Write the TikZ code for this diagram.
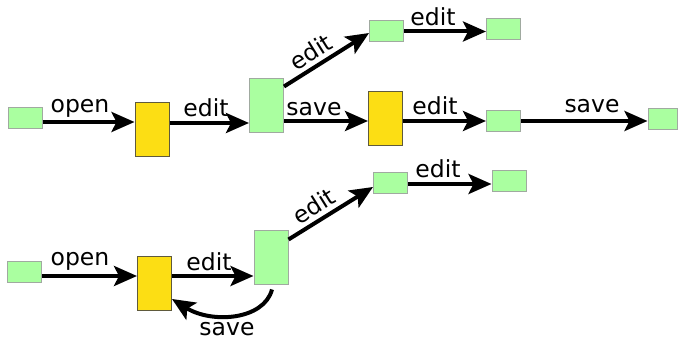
\documentclass[tikz,border=0pt]{standalone}
\usepackage{fontspec}
\setmainfont{DejaVu Sans}
\usetikzlibrary{arrows.meta,calc}
\definecolor{gfill}{RGB}{170,255,160}
\definecolor{gline}{RGB}{160,170,160}
\definecolor{yfill}{RGB}{252,222,20}
\definecolor{yline}{RGB}{95,90,60}
\begin{document}
\begin{tikzpicture}[x=1pt,y=-1pt,
  gsmall/.style={draw=gline,fill=gfill,line width=1pt,inner sep=0pt,minimum width=34pt,minimum height=21pt},
  gtall/.style={draw=gline,fill=gfill,line width=1pt,inner sep=0pt,minimum width=34pt,minimum height=54pt},
  ytall/.style={draw=yline,fill=yfill,line width=1pt,inner sep=0pt,minimum width=34pt,minimum height=54pt},
  arr/.style={line width=4pt,-{Stealth[length=23pt,width=20pt,inset=5pt]}},
  lbl/.style={font=\fontsize{23.5}{23.5}\selectfont,inner sep=0pt,anchor=base}]
\useasboundingbox (0,0) rectangle (678,339);
% top row
\node[gsmall] (A) at (25,118.5) {};
\node[ytall] (B) at (152,129.5) {};
\node[gtall] (C) at (266.5,106) {};
\node[gsmall] (D) at (386.5,31.5) {};
\node[gsmall] (E) at (503.5,29) {};
\node[ytall] (F) at (385.5,119) {};
\node[gsmall] (G) at (503.5,121) {};
\node[gsmall,minimum width=29pt] (H) at (662.5,119.5) {};
% bottom row
\node[gsmall] (I) at (24.5,272.5) {};
\node[ytall] (J) at (154.5,284) {};
\node[gtall] (K) at (271,258) {};
\node[gsmall] (L) at (390.5,183) {};
\node[gsmall] (M) at (509,181) {};
% connectors top
\draw[arr] ($(A.east)+(0,3.5)$) -- ($(B.west)+(0,-7.5)$);
\draw[arr] ($(B.east)+(0,-6.5)$) -- ($(C.west)+(0,17)$);
\draw[arr] ($(C.north east)+(0,8)$) -- ($(D.west)+(0,1.5)$);
\draw[arr] (D.east) -- (D.east -| E.west);
\draw[arr] ($(C.east)+(0,15)$) -- ($(F.west)+(0,2)$);
\draw[arr] (F.east |- G.west) -- (G.west);
\draw[arr] (G.east) -- (G.east -| H.west);
% connectors bottom
\draw[arr] ($(I.east)+(0,3.5)$) -- ($(J.west)+(0,-8)$);
\draw[arr] ($(J.east)+(0,-8)$) -- ($(K.west)+(0,18)$);
\draw[arr] ($(K.north east)+(0,9)$) -- ($(L.west)+(0,4)$);
\draw[arr] ($(L.east)+(0,1)$) -- ($(M.west)+(0,3)$);
\coordinate (ks) at ($(K.south)+(1,4)$);
\draw[arr] (ks) .. controls (264,320) and (212,324) .. ($(J.east)+(0,15)$);
% labels
\node[lbl] (l1) at (80,113) {open};
\node[lbl] (l2) at (206,117) {edit};
\node[lbl,anchor=center,rotate=32] (l3) at (311,52) {edit};
\node[lbl] (l4) at (433,26) {edit};
\node[lbl] (l5) at (314,116) {save};
\node[lbl] (l6) at (435,115) {edit};
\node[lbl] (l7) at (592,113) {save};
\node[lbl] (l8) at (80,266) {open};
\node[lbl] (l9) at (209,271) {edit};
\node[lbl,anchor=center,rotate=32] (l10) at (314,206) {edit};
\node[lbl] (l11) at (438,178) {edit};
\node[lbl] (l12) at (227,335) {save};
\end{tikzpicture}
\end{document}
